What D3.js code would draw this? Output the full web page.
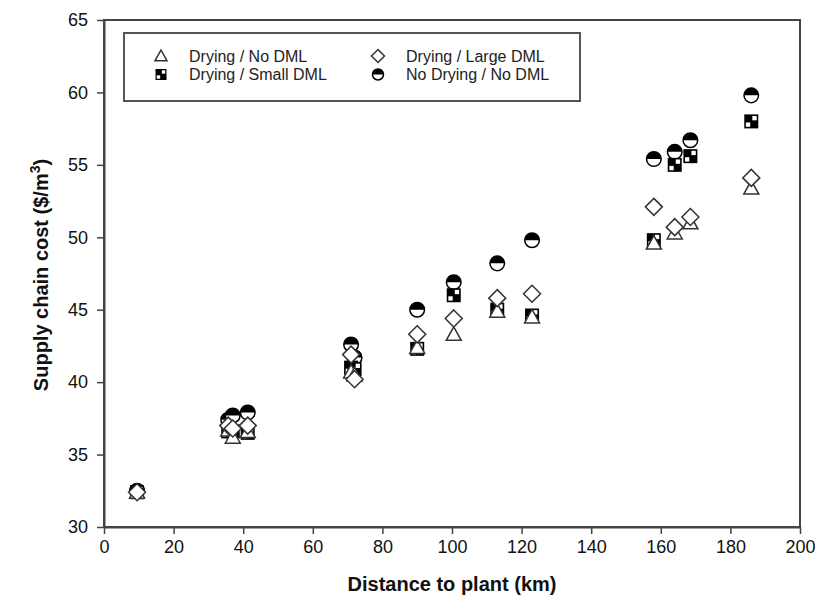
<!DOCTYPE html>
<html>
<head>
<meta charset="utf-8">
<script src="https://cdn.jsdelivr.net/npm/d3@7"></script>
<style>
  body { margin: 0; background: #fff; }
  text { font-family: "Liberation Sans", Arial, sans-serif; }
</style>
</head>
<body>
<div id="chart"></div>
<script>
// distances (km) shared by all scenarios
var distance = [9.5, 35.7, 37, 41.3, 71, 72, 90, 100.5, 113, 123, 158, 164, 168.5, 186];

// supply chain cost ($/m3) per scenario
var noDryNoDml   = [32.5, 37.4, 37.7, 37.9, 42.6, 41.7, 45.0, 46.9, 48.2, 49.8, 55.4, 55.9, 56.7, 59.8];
var dryLargeDml  = [32.4, 37.0, 36.8, 37.0, 41.9, 40.2, 43.3, 44.4, 45.8, 46.1, 52.1, 50.7, 51.4, 54.1];
var drySmallDml  = [32.4, 36.6, 36.6, 36.5, 41.0, 40.9, 42.3, 46.0, 45.0, 44.6, 49.8, 55.0, 55.6, 58.0];
var dryNoDml     = [32.4, 36.7, 36.2, 36.6, 40.7, 40.5, 42.4, 43.3, 44.9, 44.5, 49.6, 50.3, 51.0, 53.4];

var xTicks = [0, 20, 40, 60, 80, 100, 120, 140, 160, 180, 200];
var yTicks = [30, 35, 40, 45, 50, 55, 60, 65];

var margin = {top: 20, right: 22, bottom: 83, left: 104},
    width = 822 - margin.left - margin.right,
    height = 610 - margin.top - margin.bottom;

var svg = d3.select("#chart")
  .append("svg")
  .attr("width", 822)
  .attr("height", 610);

var g = svg.append("g")
  .attr("transform", `translate(${margin.left}, ${margin.top})`);

var x = d3.scaleLinear().domain([0, 200]).range([0, width]);
var y = d3.scaleLinear().domain([30, 65]).range([height, 0]);

// frame
g.append("rect")
  .attr("width", width).attr("height", height)
  .attr("fill", "none").attr("stroke", "#444").attr("stroke-width", 2);

// axes
var xAxis = g.append("g")
  .attr("transform", `translate(0, ${height})`)
  .call(d3.axisBottom(x).tickValues(xTicks).tickSize(7).tickSizeOuter(0).tickPadding(6));
var yAxis = g.append("g")
  .call(d3.axisLeft(y).tickValues(yTicks).tickSize(7).tickSizeOuter(0).tickPadding(9));
[xAxis, yAxis].forEach(function (a) {
  a.select(".domain").attr("stroke", "#444").attr("stroke-width", 2);
  a.selectAll(".tick line").attr("stroke", "#444").attr("stroke-width", 1.5);
  a.selectAll(".tick text").attr("font-size", 18).attr("fill", "#111")
    .style("font-family", "'Liberation Sans', Arial, sans-serif");
});

// axis titles
svg.append("text")
  .attr("x", margin.left + width / 2).attr("y", 591)
  .attr("text-anchor", "middle").attr("font-size", 20).attr("font-weight", "bold")
  .attr("fill", "#111")
  .text("Distance to plant (km)");

var yt = svg.append("text")
  .attr("transform", "translate(48, 275) rotate(-90)")
  .attr("text-anchor", "middle").attr("font-size", 20).attr("font-weight", "bold")
  .attr("fill", "#111");
yt.append("tspan").text("Supply chain cost ($/m");
yt.append("tspan").attr("dy", -8).attr("font-size", 14).text("3");
yt.append("tspan").attr("dy", 8).text(")");

// marker drawing functions
function drawCircle(sel, r) {
  sel.append("circle").attr("r", r).attr("fill", "#fff").attr("stroke", "#000").attr("stroke-width", 1.5);
  sel.append("path")
    .attr("d", `M${-r},0 A${r},${r} 0 0 1 ${r},0 Z`)
    .attr("fill", "#000");
}
function drawSquare(sel, s) {
  sel.append("rect").attr("x", -s).attr("y", -s).attr("width", 2 * s).attr("height", 2 * s)
    .attr("fill", "#000");
  var w = s * 0.62;
  sel.append("rect").attr("x", s * 0.15).attr("y", -s * 0.77).attr("width", w).attr("height", w).attr("fill", "#fff");
  sel.append("rect").attr("x", -s * 0.77).attr("y", s * 0.15).attr("width", w).attr("height", w).attr("fill", "#fff");
}
function drawTriangle(sel, s) {
  sel.append("path")
    .attr("d", `M0,${-s} L${s},${s * 0.8} L${-s},${s * 0.8} Z`)
    .attr("fill", "#fff").attr("stroke", "#333").attr("stroke-width", 1.5);
}
function drawDiamond(sel, s) {
  sel.append("path")
    .attr("d", `M0,${-s} L${s},0 L0,${s} L${-s},0 Z`)
    .attr("fill", "#fff").attr("stroke", "#333").attr("stroke-width", 1.5);
}

var series = [
  {name: "No Drying / No DML", values: noDryNoDml, draw: function (s) { drawCircle(s, 7.3); }},
  {name: "Drying / Small DML", values: drySmallDml, draw: function (s) { drawSquare(s, 7); }},
  {name: "Drying / No DML", values: dryNoDml, draw: function (s) { drawTriangle(s, 7.5); }},
  {name: "Drying / Large DML", values: dryLargeDml, draw: function (s) { drawDiamond(s, 8.5); }}
];

series.forEach(function (ser) {
  g.append("g")
    .selectAll("g")
    .data(ser.values.map(function (v, i) { return {d: distance[i], c: v}; }))
    .join("g")
    .attr("transform", function (d) { return `translate(${x(d.d)}, ${y(d.c)})`; })
    .each(function () { ser.draw(d3.select(this)); });
});

// legend
var legend = svg.append("g");
legend.append("rect")
  .attr("x", 124).attr("y", 33).attr("width", 456).attr("height", 68)
  .attr("fill", "#fff").attr("stroke", "#555").attr("stroke-width", 2);

var legendItems = [
  {label: "Drying / No DML", lx: 161, ly: 56, draw: function (s) { drawTriangle(s, 6); }},
  {label: "Drying / Small DML", lx: 161, ly: 74.5, draw: function (s) { drawSquare(s, 5.5); }},
  {label: "Drying / Large DML", lx: 378, ly: 56, draw: function (s) { drawDiamond(s, 6.5); }},
  {label: "No Drying / No DML", lx: 378, ly: 74.5, draw: function (s) { drawCircle(s, 5.5); }}
];
legendItems.forEach(function (it) {
  var m = legend.append("g").attr("transform", `translate(${it.lx}, ${it.ly})`);
  it.draw(m);
  legend.append("text")
    .attr("x", it.lx + 28).attr("y", it.ly + 5.5)
    .attr("font-size", 16).attr("fill", "#222")
    .text(it.label);
});
</script>
</body>
</html>
